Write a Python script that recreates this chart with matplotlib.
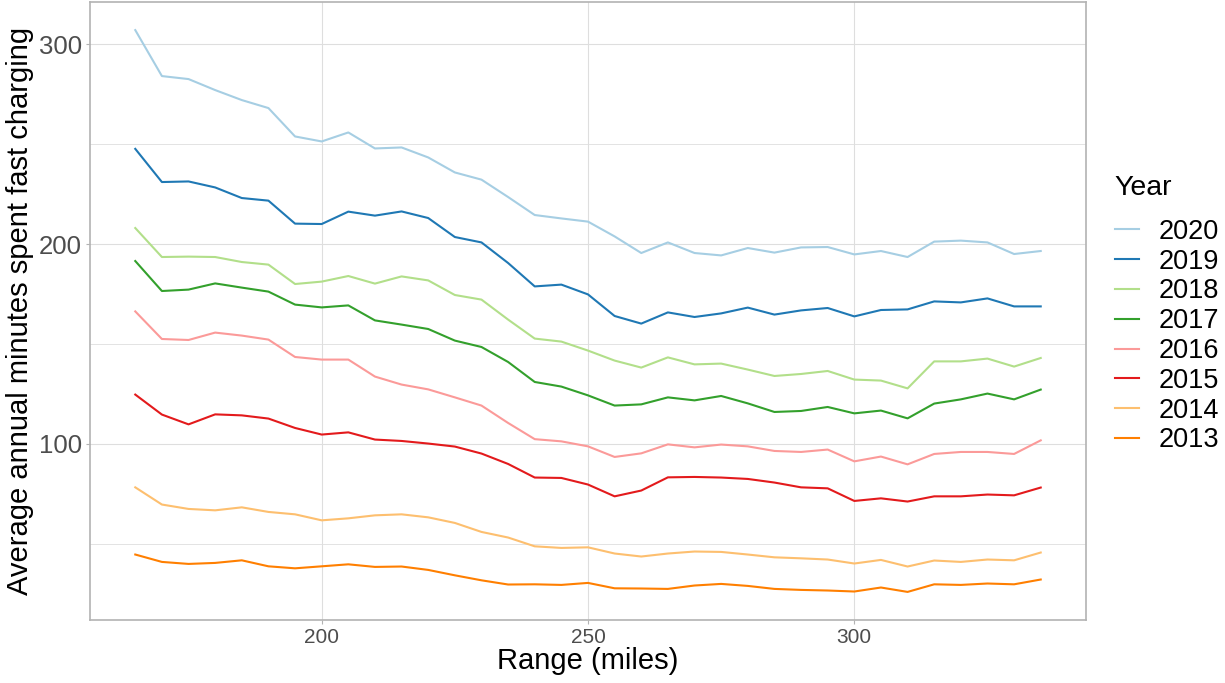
import matplotlib
matplotlib.use("Agg")
import matplotlib.pyplot as plt
from matplotlib.ticker import MultipleLocator

plt.rcParams["font.family"] = ["Liberation Sans", "DejaVu Sans"]

range_miles = [165, 170, 175, 180, 185, 190, 195, 200, 205, 210, 215, 220,
               225, 230, 235, 240, 245, 250, 255, 260, 265, 270, 275, 280,
               285, 290, 295, 300, 305, 310, 315, 320, 325, 330, 335]

y2020 = [307, 284, 282.5, 277, 272, 268, 253.8, 251.3, 255.8, 247.8, 248.3, 243.3,
         235.8, 232.2, 223.5, 214.5, 212.8, 211.2, 203.8, 195.5, 200.8, 195.5, 194.3, 198,
         195.7, 198.3, 198.5, 194.8, 196.5, 193.5, 201.2, 201.7, 200.8, 195, 196.5]
y2019 = [247.6, 231, 231.3, 228.3, 223, 221.7, 210.2, 210, 216.2, 214.2, 216.3, 213,
         203.5, 200.8, 190.5, 178.8, 179.7, 174.8, 164, 160.2, 165.8, 163.5, 165.3, 168.2,
         164.7, 166.8, 168, 163.8, 167, 167.3, 171.3, 170.8, 172.8, 168.8, 168.8]
y2018 = [208, 193.5, 193.7, 193.5, 191, 189.7, 180, 181.2, 184, 180.2, 183.8, 181.8,
         174.5, 172.2, 162.2, 152.7, 151.2, 146.7, 141.7, 138.2, 143.3, 139.8, 140.2, 137.2,
         134, 135, 136.5, 132.2, 131.7, 127.8, 141.3, 141.3, 142.7, 138.7, 143]
y2017 = [191.5, 176.5, 177.2, 180.3, 178.2, 176.2, 169.7, 168.3, 169.3, 161.8, 159.7, 157.5,
         151.7, 148.5, 141, 131, 128.7, 124.3, 119.2, 119.8, 123.3, 121.8, 124, 120.3,
         116, 116.5, 118.5, 115.3, 116.7, 112.8, 120.2, 122.3, 125.2, 122.3, 127.2]
y2016 = [166.3, 152.5, 152, 155.7, 154.2, 152.2, 143.5, 142.2, 142.2, 133.7, 129.7, 127.3,
         123.3, 119.2, 110.5, 102.4, 101.3, 98.8, 93.5, 95.3, 99.8, 98.3, 99.7, 98.8,
         96.5, 96, 97.2, 91.3, 93.7, 89.8, 95, 96, 96, 95, 101.8]
y2015 = [124.7, 114.7, 109.8, 114.8, 114.3, 112.7, 108, 104.7, 105.8, 102.2, 101.5, 100.2,
         98.7, 95.2, 90, 83.2, 83, 79.7, 73.8, 76.7, 83.3, 83.5, 83.2, 82.5,
         80.7, 78.3, 77.8, 71.5, 72.8, 71.2, 73.8, 73.8, 74.7, 74.3, 78.2]
y2014 = [78.3, 69.7, 67.5, 66.8, 68.3, 66, 64.8, 61.8, 62.8, 64.3, 64.8, 63.3,
         60.5, 56, 53.2, 48.8, 48, 48.3, 45.2, 43.7, 45.2, 46.2, 46, 44.7,
         43.3, 42.8, 42.2, 40.2, 42, 38.7, 41.7, 41, 42.2, 41.8, 45.7]
y2013 = [44.7, 41, 40, 40.5, 41.8, 38.8, 37.8, 38.8, 39.8, 38.5, 38.7, 37,
         34.3, 31.8, 29.7, 29.8, 29.5, 30.5, 27.8, 27.7, 27.5, 29.2, 30, 29,
         27.5, 27, 26.7, 26.2, 28.2, 26, 29.8, 29.5, 30.2, 29.8, 32.2]

years = ["2020", "2019", "2018", "2017", "2016", "2015", "2014", "2013"]
series = [y2020, y2019, y2018, y2017, y2016, y2015, y2014, y2013]
colors = ["#A6CEE3", "#1F78B4", "#B2DF8A", "#33A02C",
          "#FB9A99", "#E31A1C", "#FDBF6F", "#FF7F00"]

fig = plt.figure(figsize=(12.25, 6.83), dpi=100)
ax = fig.add_axes([90 / 1225, 1 - 620 / 683, 996 / 1225, 618 / 683])

handles = []
for yr, vals, col in zip(years, series, colors):
    (ln,) = ax.plot(range_miles, vals, color=col, lw=1.5, label=yr)
    handles.append(ln)

# limites con expansion tipo ggplot (5%)
xr = max(range_miles) - min(range_miles)
ax.set_xlim(min(range_miles) - 0.05 * xr, max(range_miles) + 0.05 * xr)
lo = min(min(s) for s in series)
hi = max(max(s) for s in series)
ax.set_ylim(lo - 0.05 * (hi - lo), hi + 0.05 * (hi - lo))

ax.xaxis.set_major_locator(MultipleLocator(50))
ax.yaxis.set_major_locator(MultipleLocator(100))
ax.yaxis.set_minor_locator(MultipleLocator(50))

ax.grid(True, which="major", color="#DEDEDE", lw=0.8)
ax.grid(True, which="minor", axis="y", color="#DEDEDE", lw=0.6)
ax.set_axisbelow(True)
for s in ax.spines.values():
    s.set_color("#B3B3B3")
    s.set_linewidth(1.2)

ax.tick_params(axis="both", which="major", color="#B3B3B3", length=3, width=0.8,
               labelcolor="#4D4D4D")
ax.tick_params(axis="both", which="minor", length=0)
ax.tick_params(axis="x", labelsize=15, pad=3)
ax.tick_params(axis="y", labelsize=18.5, pad=3)

ax.set_xlabel("Range (miles)", fontsize=21, labelpad=0)
ax.set_ylabel("Average annual minutes spent fast charging", fontsize=21, labelpad=3)

leg = fig.legend(handles=handles, labels=years, title="Year",
                 loc="upper left", bbox_to_anchor=(1104 / 1225, 1 - 164 / 683),
                 frameon=False, fontsize=19.5, title_fontsize=20.5,
                 handlelength=0.9, handletextpad=0.72, labelspacing=0.14,
                 alignment="left", borderaxespad=0)
# mas espacio entre el titulo y las entradas
leg._legend_box.sep = 13

fig.savefig("out.png", dpi=100)
